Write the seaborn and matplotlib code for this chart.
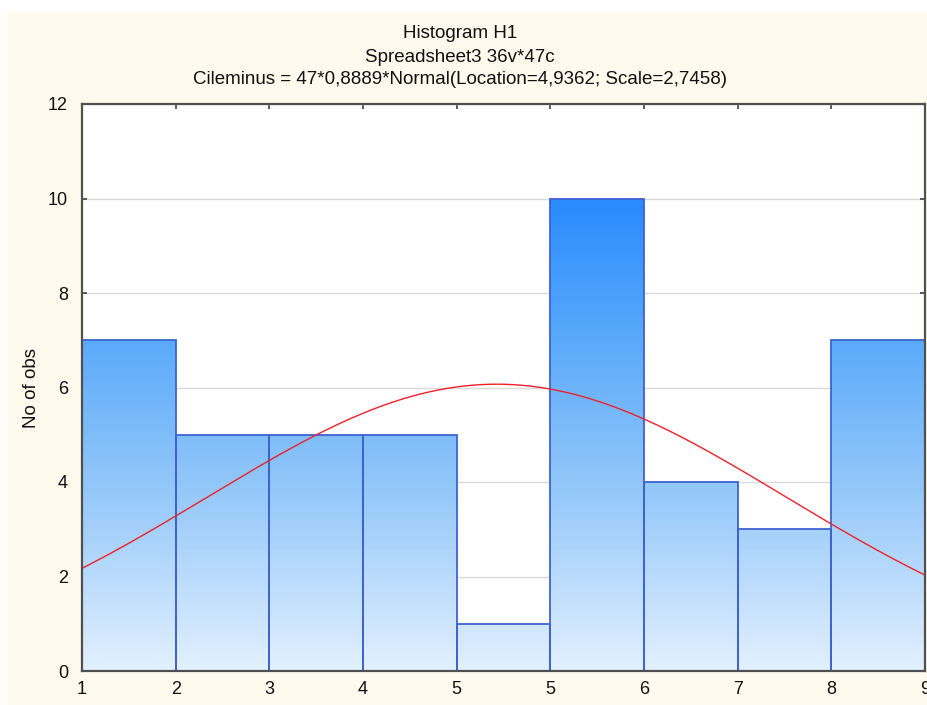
import numpy as np
import pandas as pd
import seaborn as sns
import matplotlib
matplotlib.use("Agg")
import matplotlib.pyplot as plt
from matplotlib.colors import LinearSegmentedColormap
from matplotlib.patches import Rectangle

# ---- data ----
bin_edges = [1.0, 1.8889, 2.7778, 3.6667, 4.5556, 5.4444, 6.3333, 7.2222, 8.1111, 9.0]
bin_mids = [(a + b) / 2 for a, b in zip(bin_edges[:-1], bin_edges[1:])]
counts = [7, 5, 5, 5, 1, 10, 4, 3, 7]
tick_labels = ["1", "2", "3", "4", "5", "5", "6", "7", "8", "9"]
y_ticks = [0, 2, 4, 6, 8, 10, 12]
n_obs = 47
bin_width = 0.8889
fit_location = 4.9362
fit_scale = 2.7458

title_lines = ["Histogram H1", "Spreadsheet3 36v*47c",
               "Cileminus = 47*0,8889*Normal(Location=4,9362; Scale=2,7458)"]

sns.set_theme(style="white")
plt.rcParams['font.family'] = ['Liberation Sans', 'DejaVu Sans']

fig = plt.figure(figsize=(9.27, 7.05), dpi=100)
fig.patch.set_facecolor("white")
fig.patches.append(Rectangle((7 / 927, 0.0), 1, 1 - 12 / 705, transform=fig.transFigure,
                             facecolor="#FFF9EE", edgecolor="none", zorder=-10))

ax = fig.add_axes([82 / 927, (705 - 671) / 705, (925 - 82) / 927, (671 - 104) / 705])
ax.set_facecolor("white")

df = pd.DataFrame({"x": bin_mids, "w": counts})
sns.histplot(data=df, x="x", weights="w", bins=bin_edges, ax=ax,
             edgecolor="#3D63D0", linewidth=1.3, facecolor="none", alpha=1, zorder=3)

cmap = LinearSegmentedColormap.from_list("g", ["#E2F0FF", "#9ACBFA", "#5AAAF9", "#2185FF"])
grad = np.linspace(0, 12, 400).reshape(-1, 1)
for p in ax.patches:
    im = ax.imshow(grad, extent=[1, 9, 0, 12], origin="lower", aspect="auto",
                   cmap=cmap, vmin=0, vmax=10.5, zorder=2)
    im.set_clip_path(p)
    p.set_facecolor("none")

# fitted normal curve
xs = np.linspace(1, 9, 300)
ys = n_obs * bin_width * np.exp(-0.5 * ((xs - fit_location) / fit_scale) ** 2) / (fit_scale * np.sqrt(2 * np.pi))
sns.lineplot(x=xs, y=ys, ax=ax, color="#F0202A", linewidth=1.0, zorder=4)

ax.set_xlim(1, 9)
ax.set_ylim(0, 12)
ax.set_xticks(bin_edges)
ax.set_xticklabels(tick_labels)
ax.set_yticks(y_ticks)
ax.yaxis.grid(True, color="#DADADA", linewidth=1.0, zorder=0)
ax.set_axisbelow(True)
ax.tick_params(direction="in", length=3.5, width=1.2, color="#404040",
               top=True, right=True, bottom=True, left=True, labelsize=13,
               labelcolor="#111111")
ax.tick_params(axis="y", pad=10)
ax.tick_params(axis="x", pad=7)
for s in ax.spines.values():
    s.set_color("#505050")
    s.set_linewidth(1.6)
    s.set_zorder(5)
ax.set_xlabel("")
ax.set_ylabel("No of obs", fontsize=13.5, color="#111111", labelpad=6)

for i, (t, yp) in enumerate(zip(title_lines, [33, 57, 79])):
    fig.text(460 / 927, 1 - yp / 705, t, ha="center", va="center", fontsize=13.5, color="#111111")

fig.savefig("out.png", dpi=100, facecolor=fig.get_facecolor())
